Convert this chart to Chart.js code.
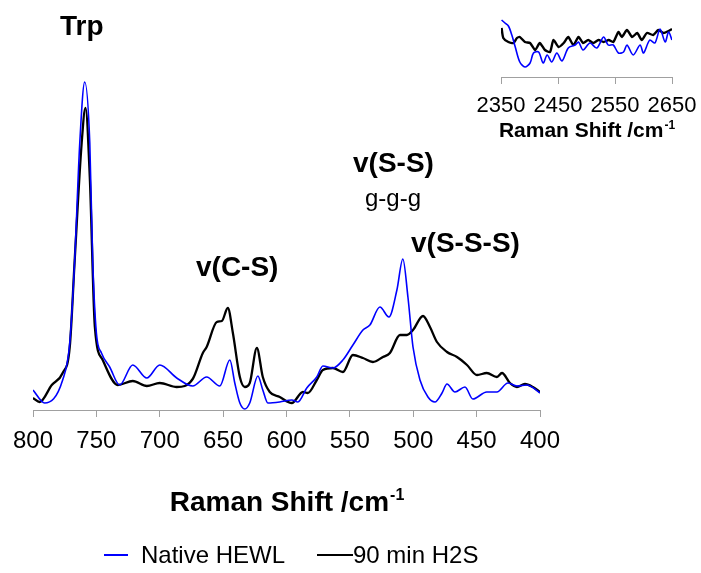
<!DOCTYPE html>
<html><head><meta charset="utf-8">
<script src="https://cdn.jsdelivr.net/npm/chart.js@4"></script>
<style>
html,body{margin:0;padding:0;background:#fff;}
#wrap{position:relative;width:701px;height:573px;overflow:hidden;}
#main{position:absolute;left:0;top:0;}
#inset{position:absolute;left:460px;top:0;}
</style></head><body>
<div id="wrap">
<canvas id="main" width="701" height="573"></canvas>
<canvas id="inset" width="241" height="145"></canvas>
</div>
<script>
// ---- Main spectrum (Raman shift, cm-1) ----
const nativeShift = [800, 790.8, 776.6, 771, 767.1, 763.1, 759.2, 755.2, 752.9, 750, 746, 739.5, 731.6, 721.3, 710.2, 700, 686.6, 674, 663, 652.6, 644.7, 640.8, 636.8, 632.9, 629, 622.6, 618.7, 614.7, 605.3, 595.8, 591, 584, 576.1, 571.3, 563.4, 555.5, 547.6, 539.7, 534.2, 526.3, 519.2, 512.9, 508.2, 504.2, 500.2, 494.7, 488.4, 482.9, 477.3, 473.4, 467.1, 459.2, 453, 442, 434, 425.3, 418.2, 410.3, 400];
const nativeHEWL = [20, 7, 30, 67, 150, 267, 328, 267, 150, 77, 57, 43, 25, 45, 32, 45, 32, 24, 33, 24, 50, 27, 7, 1, 7, 34, 20, 7, 8, 10, 8, 22, 33, 44, 42, 50, 65, 80, 85, 103, 93, 120, 151, 113, 63, 30, 13, 8, 17, 26, 18, 23, 11, 18, 18, 27, 24, 25, 17];
const h2sShift = [800, 794.7, 785.2, 776.6, 771, 767.1, 761.6, 758.6, 755.2, 751.2, 745, 733.1, 721.3, 710.2, 700, 686.6, 674, 666, 663, 655, 651, 646.3, 642.3, 636.8, 632.9, 629, 623.4, 618.7, 613.2, 605.3, 595.8, 587.1, 583.2, 576.1, 571.3, 563.4, 555.5, 547.6, 539.7, 531.8, 523.9, 518.4, 510.5, 505, 500.2, 492.3, 486.8, 481.3, 473.4, 465.5, 457.6, 449.7, 442, 434, 430, 423.7, 418.2, 411.9, 405.6, 400];
const h2s90min = [12, 8, 25, 37, 63, 150, 267, 302, 233, 83, 50, 25, 29, 24, 27, 23, 31, 57, 63, 88, 89, 102, 77, 33, 23, 27, 62, 33, 18, 13, 7, 18, 17, 30, 40, 42, 38, 55, 52, 48, 53, 57, 75, 75, 80, 94, 83, 68, 58, 53, 45, 35, 37, 33, 37, 27, 23, 26, 23, 18];

// ---- Inset spectrum (2350-2650 cm-1) ----
const insetNativeShift = [2351, 2357, 2363, 2369, 2375, 2383, 2392, 2401, 2407, 2416, 2424, 2431, 2439, 2448, 2457, 2468, 2480, 2486, 2494, 2506, 2518, 2530, 2538, 2547, 2556, 2565, 2571, 2582, 2594, 2600, 2611, 2620, 2629, 2638, 2644, 2650];
const insetNative = [57, 54, 51, 42, 30, 15, 10, 14, 24, 25, 14, 22, 15, 24, 16, 29, 32, 35, 27, 34, 29, 40, 32, 32, 24, 25, 32, 22, 32, 24, 37, 34, 48, 35, 45, 37];
const insetH2sShift = [2351, 2354, 2363, 2372, 2378, 2383, 2392, 2401, 2410, 2418, 2427, 2436, 2442, 2451, 2460, 2468, 2477, 2486, 2494, 2503, 2512, 2521, 2530, 2539, 2547, 2556, 2562, 2571, 2580, 2589, 2597, 2606, 2617, 2626, 2635, 2644, 2650];
const insetH2s = [49, 39, 35, 34, 39, 40, 35, 34, 27, 34, 27, 25, 37, 30, 34, 40, 32, 40, 34, 37, 34, 37, 35, 37, 35, 45, 40, 47, 40, 44, 37, 44, 42, 47, 44, 46, 48];

const mainTicks = [800, 750, 700, 650, 600, 550, 500, 450, 400];
const insetTicks = [2350, 2450, 2550, 2650];
const seriesLabels = ['Native HEWL', '90 min H2S'];
const seriesColors = ['#0000ff', '#000000'];
const axisTitle = 'Raman Shift /cm';
const axisTitleSup = '-1';
const annotations = [
  {text: 'Trp', x: 60, y: 35, bold: true, size: 28},
  {text: 'v(C-S)', x: 196, y: 276, bold: true, size: 28},
  {text: 'v(S-S)', x: 353, y: 172, bold: true, size: 28},
  {text: 'g-g-g', x: 365, y: 206, bold: false, size: 24},
  {text: 'v(S-S-S)', x: 411, y: 252, bold: true, size: 28}
];

const FONT = "'Liberation Sans', Arial, sans-serif";
const toXY = (xs, ys) => xs.map((x, i) => ({x: x, y: ys[i]}));

const mainDecor = {
  id: 'mainDecor',
  afterDraw(chart) {
    const ctx = chart.ctx;
    ctx.save();
    ctx.fillStyle = '#000';
    ctx.textBaseline = 'alphabetic';
    ctx.textAlign = 'left';
    annotations.forEach(a => {
      ctx.font = (a.bold ? 'bold ' : '') + a.size + 'px ' + FONT;
      ctx.fillText(a.text, a.x, a.y);
    });
    // axis title with superscript
    const area = chart.chartArea;
    ctx.font = 'bold 28px ' + FONT;
    const w1 = ctx.measureText(axisTitle).width;
    ctx.font = 'bold 16px ' + FONT;
    const w2 = ctx.measureText(axisTitleSup).width;
    const cx = (area.left + area.right) / 2;
    const x0 = cx - (w1 + w2) / 2;
    ctx.font = 'bold 28px ' + FONT;
    ctx.fillText(axisTitle, x0, 511);
    ctx.font = 'bold 16px ' + FONT;
    ctx.fillText(axisTitleSup, x0 + w1 + 1, 500);
    // legend
    const ds = chart.data.datasets;
    const items = [{x1: 104, x2: 128, tx: 141}, {x1: 317, x2: 353, tx: 353}];
    ctx.font = '24px ' + FONT;
    ctx.textBaseline = 'middle';
    items.forEach((it, i) => {
      ctx.strokeStyle = ds[i].borderColor;
      ctx.lineWidth = 2;
      ctx.beginPath();
      ctx.moveTo(it.x1, 555);
      ctx.lineTo(it.x2, 555);
      ctx.stroke();
      ctx.fillStyle = '#000';
      ctx.fillText(ds[i].label, it.tx, 556);
    });
    ctx.restore();
  }
};

new Chart(document.getElementById('main'), {
  type: 'line',
  data: {
    datasets: [
      {label: seriesLabels[0], data: toXY(nativeShift, nativeHEWL), borderColor: seriesColors[0], borderWidth: 1.6, pointRadius: 0, cubicInterpolationMode: 'monotone', fill: false},
      {label: seriesLabels[1], data: toXY(h2sShift, h2s90min), borderColor: seriesColors[1], borderWidth: 2.3, pointRadius: 0, cubicInterpolationMode: 'monotone', fill: false}
    ]
  },
  options: {
    responsive: false,
    animation: false,
    devicePixelRatio: 1,
    layout: {padding: {left: 33, right: 161, top: 10, bottom: 0}},
    plugins: {legend: {display: false}, tooltip: {enabled: false}},
    scales: {
      x: {
        type: 'linear', min: 400, max: 800, reverse: true,
        afterBuildTicks(scale) { scale.ticks = mainTicks.map(v => ({value: v})); },
        afterFit(scale) { scale.height = 163; },
        ticks: {color: '#000', font: {family: FONT, size: 24}, padding: 10, maxRotation: 0, autoSkip: false, callback: v => String(v)},
        grid: {display: true, drawOnChartArea: false, drawTicks: true, tickLength: 7, color: '#a0a0a0', lineWidth: 1},
        border: {display: true, color: '#a0a0a0', width: 1}
      },
      y: {type: 'linear', min: 0, max: 400, display: false}
    }
  },
  plugins: [mainDecor]
});

const insetDecor = {
  id: 'insetDecor',
  afterDraw(chart) {
    const ctx = chart.ctx;
    ctx.save();
    ctx.fillStyle = '#000';
    ctx.textBaseline = 'alphabetic';
    ctx.font = 'bold 21px ' + FONT;
    const w1 = ctx.measureText(axisTitle).width;
    ctx.font = 'bold 12px ' + FONT;
    const w2 = ctx.measureText(axisTitleSup).width;
    const area = chart.chartArea;
    const cx = (area.left + area.right) / 2;
    const x0 = cx - (w1 + w2) / 2;
    ctx.font = 'bold 21px ' + FONT;
    ctx.fillText(axisTitle, x0, 137);
    ctx.font = 'bold 12px ' + FONT;
    ctx.fillText(axisTitleSup, x0 + w1 + 1, 129);
    ctx.restore();
  }
};

new Chart(document.getElementById('inset'), {
  type: 'line',
  data: {
    datasets: [
      {label: seriesLabels[0], data: toXY(insetNativeShift, insetNative), borderColor: seriesColors[0], borderWidth: 1.6, pointRadius: 0, tension: 0.3, fill: false},
      {label: seriesLabels[1], data: toXY(insetH2sShift, insetH2s), borderColor: seriesColors[1], borderWidth: 2.4, pointRadius: 0, tension: 0.2, fill: false}
    ]
  },
  options: {
    responsive: false,
    animation: false,
    devicePixelRatio: 1,
    layout: {padding: {left: 41, right: 29, top: 10, bottom: 0}},
    plugins: {legend: {display: false}, tooltip: {enabled: false}},
    scales: {
      x: {
        type: 'linear', min: 2350, max: 2650,
        afterBuildTicks(scale) { scale.ticks = insetTicks.map(v => ({value: v})); },
        afterFit(scale) { scale.height = 68; },
        ticks: {color: '#000', font: {family: FONT, size: 22, lineHeight: 1.75}, padding: 3, maxRotation: 0, autoSkip: false, callback: v => String(v)},
        grid: {display: true, drawOnChartArea: false, drawTicks: true, tickLength: 7, color: '#a0a0a0', lineWidth: 1},
        border: {display: true, color: '#a0a0a0', width: 1}
      },
      y: {type: 'linear', min: 0, max: 67, display: false}
    }
  },
  plugins: [insetDecor]
});
</script>
</body></html>
